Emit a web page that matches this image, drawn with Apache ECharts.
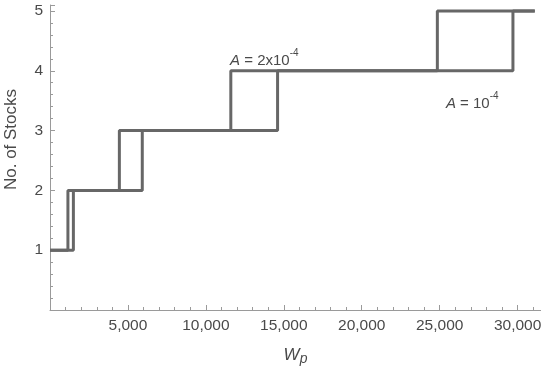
<!DOCTYPE html>
<html>
<head>
<meta charset="utf-8">
<script src="https://cdn.jsdelivr.net/npm/echarts@6/dist/echarts.min.js"></script>
<style>html,body{margin:0;padding:0;background:#fff}#c{width:541px;height:367px}</style>
</head>
<body>
<div id="c"></div>
<script>
// Wealth thresholds at which the number of stocks steps up
const stockLevels = [1, 2, 3, 4, 5];
const thresholdsA = [1150, 4450, 11600, 24850];   // A = 2x10^-4
const thresholdsB = [1500, 5920, 14600, 29700];   // A = 10^-4
const wealthStart = 0;
const wealthEnd = 31100;
const xTicks = [5000, 10000, 15000, 20000, 25000, 30000];
const yTicks = [1, 2, 3, 4, 5];

function buildSteps(th) {
  const pts = [[wealthStart, stockLevels[0]]];
  th.forEach((t, i) => pts.push([t, stockLevels[i + 1]]));
  pts.push([wealthEnd, stockLevels[stockLevels.length - 1]]);
  return pts;
}

const font = 'Liberation Sans, Arial, Helvetica, sans-serif';
const txt = '#4a4a4a';
const axisCol = '#9a9a9a';
const lineCol = '#676767';

const chart = echarts.init(document.getElementById('c'), null, {renderer: 'canvas'});
const supRich = {
  i: {fontStyle: 'italic', fontSize: 15, fontFamily: font, color: txt},
  n: {fontSize: 15, fontFamily: font, color: txt},
  s: {fontSize: 10, fontFamily: font, color: txt, padding: [0, 0, 15, 0]}
};
chart.setOption({
  animation: false,
  grid: {left: 50, right: 0, top: 5, bottom: 57, outerBoundsMode: 'none', containLabel: false},
  xAxis: {
    type: 'value', min: 0, max: 31500, interval: 5000,
    name: '{i|W}{s|p}', nameLocation: 'middle', nameGap: 34,
    nameTextStyle: {rich: {
      i: {fontStyle: 'italic', fontSize: 17, fontFamily: font, color: txt},
      s: {fontStyle: 'italic', fontSize: 14, fontFamily: font, color: txt, padding: [8, 0, 0, 0]}
    }},
    axisLine: {lineStyle: {color: axisCol, width: 1}},
    axisTick: {inside: true, length: 5, lineStyle: {color: axisCol}},
    minorTick: {show: true, splitNumber: 5, length: 3, lineStyle: {color: axisCol}},
    splitLine: {show: false},
    axisLabel: {
      fontSize: 15.5, fontFamily: font, color: txt, margin: 8, hideOverlap: false,
      formatter: v => xTicks.includes(v) ? v.toLocaleString('en-US') : ''
    }
  },
  yAxis: {
    type: 'value', min: 0, max: 5.1, interval: 1,
    name: 'No. of Stocks', nameLocation: 'middle', nameGap: 30,
    nameTextStyle: {fontSize: 17, fontFamily: font, color: txt, padding: [0, 0, 0, 36]},
    axisLine: {show: true, lineStyle: {color: axisCol, width: 1}},
    axisTick: {show: true, inside: true, length: 5, lineStyle: {color: axisCol}},
    minorTick: {show: true, splitNumber: 5, length: 3, lineStyle: {color: axisCol}},
    splitLine: {show: false},
    axisLabel: {
      fontSize: 15.5, fontFamily: font, color: txt, margin: 7,
      formatter: v => yTicks.includes(v) ? String(v) : ''
    }
  },
  series: [
    {
      type: 'line', step: 'end', data: buildSteps(thresholdsA), showSymbol: false,
      lineStyle: {color: lineCol, width: 3}, z: 3,
      markPoint: {
        symbol: 'circle', symbolSize: 0, silent: true,
        data: [{coord: [11550, 4.17]}],
        label: {show: true, position: 'right', distance: 0,
          formatter: '{i|A}{n| = 2x10}{s|-4}', rich: supRich}
      }
    },
    {
      type: 'line', step: 'end', data: buildSteps(thresholdsB), showSymbol: false,
      lineStyle: {color: lineCol, width: 3}, z: 2,
      markPoint: {
        symbol: 'circle', symbolSize: 0, silent: true,
        data: [{coord: [25400, 3.45]}],
        label: {show: true, position: 'right', distance: 0,
          formatter: '{i|A}{n| = 10}{s|-4}', rich: supRich}
      }
    }
  ]
});
</script>
</body>
</html>
